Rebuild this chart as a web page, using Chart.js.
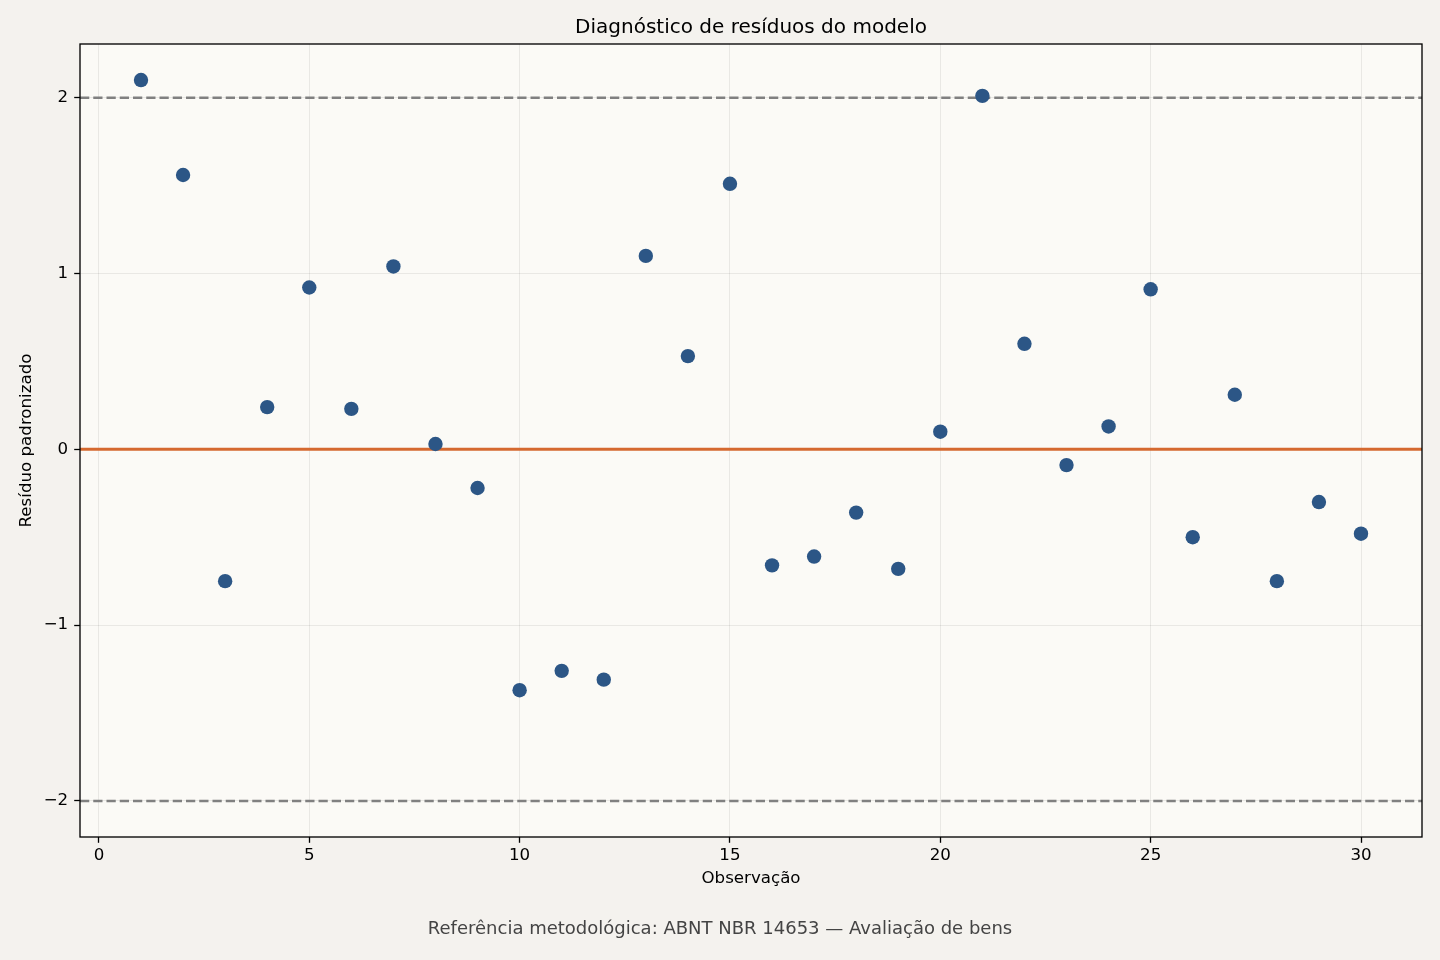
<!DOCTYPE html>
<html>
<head>
<meta charset="utf-8">
<script src="https://cdn.jsdelivr.net/npm/chart.js@4.4.1/dist/chart.umd.min.js"></script>
<style>
  html, body { margin: 0; padding: 0; background: #f4f2ee; }
  #wrap { width: 1440px; height: 960px; }
</style>
</head>
<body>
<div id="wrap"><canvas id="c" width="1440" height="960"></canvas></div>
<script>
// ---- data ----
const observations = [1,2,3,4,5,6,7,8,9,10,11,12,13,14,15,16,17,18,19,20,21,22,23,24,25,26,27,28,29,30];
const residuals = [2.10, 1.56, -0.75, 0.24, 0.92, 0.23, 1.04, 0.03, -0.22, -1.37,
                   -1.26, -1.31, 1.10, 0.53, 1.51, -0.66, -0.61, -0.36, -0.68, 0.10,
                   2.01, 0.60, -0.09, 0.13, 0.91, -0.50, 0.31, -0.75, -0.30, -0.48];
const xTicks = [0, 5, 10, 15, 20, 25, 30];
const yTicks = [-2, -1, 0, 1, 2];
const limitLines = [2, -2];
const zeroLine = 0;
const titleText = 'Diagnóstico de resíduos do modelo';
const xLabel = 'Observação';
const yLabel = 'Resíduo padronizado';
const footText = 'Referência metodológica: ABNT NBR 14653 — Avaliação de bens';

const FONT = "'DejaVu Sans', sans-serif";

const pts = observations.map((o, i) => ({ x: o, y: residuals[i] }));

const bgPlugin = {
  id: 'bg',
  beforeDraw(chart) {
    const { ctx, chartArea: a } = chart;
    ctx.save();
    ctx.fillStyle = '#f4f2ee';
    ctx.fillRect(0, 0, chart.width, chart.height);
    ctx.fillStyle = '#fbfaf6';
    ctx.fillRect(a.left, a.top, a.right - a.left, a.bottom - a.top);
    ctx.restore();
  },
  beforeDatasetsDraw(chart) {
    const { ctx, chartArea: a, scales } = chart;
    const y = scales.y;
    ctx.save();
    ctx.beginPath();
    ctx.rect(a.left, a.top, a.right - a.left, a.bottom - a.top);
    ctx.clip();
    ctx.strokeStyle = '#808080';
    ctx.lineWidth = 2.5;
    ctx.setLineDash([9.25, 4]);
    limitLines.forEach(v => {
      const py = y.getPixelForValue(v);
      ctx.beginPath();
      ctx.moveTo(a.left, py);
      ctx.lineTo(a.right, py);
      ctx.stroke();
    });
    ctx.setLineDash([]);
    ctx.strokeStyle = '#d5692f';
    ctx.lineWidth = 3;
    const pz = y.getPixelForValue(zeroLine);
    ctx.beginPath();
    ctx.moveTo(a.left, pz);
    ctx.lineTo(a.right, pz);
    ctx.stroke();
    ctx.restore();
  },
  afterDraw(chart) {
    const { ctx, chartArea: a } = chart;
    ctx.save();
    ctx.strokeStyle = '#000';
    ctx.lineWidth = 1.33;
    ctx.strokeRect(a.left, a.top, a.right - a.left, a.bottom - a.top);
    ctx.restore();
  }
};

const fmt = v => (v < 0 ? '\u2212' + Math.abs(v) : String(v));

new Chart(document.getElementById('c'), {
  type: 'scatter',
  data: {
    datasets: [{
      data: pts,
      backgroundColor: '#2c5686',
      borderColor: '#2c5686',
      borderWidth: 0,
      pointRadius: 7.2,
      pointHoverRadius: 7.2
    }]
  },
  options: {
    responsive: false,
    devicePixelRatio: 1,
    animation: false,
    events: [],
    layout: { padding: { left: 0, right: 0, top: 0, bottom: 0 } },
    plugins: {
      legend: { display: false },
      tooltip: { enabled: false },
      title: {
        display: true,
        fullSize: false,
        text: titleText,
        color: '#000',
        font: { family: FONT, size: 20, weight: 'normal' },
        padding: { top: 15.5, bottom: 4.5 }
      },
      subtitle: {
        display: true,
        fullSize: true,
        position: 'bottom',
        text: footText,
        color: '#444',
        font: { family: FONT, size: 18, weight: 'normal' },
        padding: { top: 0, bottom: 19.7 }
      }
    },
    scales: {
      x: {
        type: 'linear',
        min: -0.45,
        max: 31.45,
        afterBuildTicks: s => { s.ticks = xTicks.map(v => ({ value: v })); },
        afterFit: s => { s.height = 81.7; },
        border: { display: false },
        grid: { color: 'rgba(0,0,0,0.07)', lineWidth: 1, tickColor: '#000', tickLength: 5.8, tickWidth: 1.3 },
        ticks: { color: '#000', font: { family: FONT, size: 16.67 }, padding: 3, maxRotation: 0, callback: fmt },
        title: { display: true, text: xLabel, color: '#000', font: { family: FONT, size: 16.67 }, padding: { top: 0, bottom: 29.7 } }
      },
      y: {
        type: 'linear',
        min: -2.205,
        max: 2.305,
        afterBuildTicks: s => { s.ticks = yTicks.map(v => ({ value: v })); },
        afterFit: s => { s.width = 80; },
        border: { display: false },
        grid: { color: 'rgba(0,0,0,0.07)', lineWidth: 1, tickColor: '#000', tickLength: 5.8, tickWidth: 1.3 },
        ticks: { color: '#000', font: { family: FONT, size: 16.67 }, padding: 6, callback: fmt },
        title: { display: true, text: yLabel, color: '#000', font: { family: FONT, size: 16.67 }, padding: { top: 17, bottom: 0 } }
      },
      yRight: {
        type: 'linear',
        position: 'right',
        display: true,
        afterFit: s => { s.width = 18; },
        border: { display: false },
        grid: { display: false, drawTicks: false },
        ticks: { display: false },
        title: { display: false }
      }
    }
  },
  plugins: [bgPlugin]
});
</script>
</body>
</html>
